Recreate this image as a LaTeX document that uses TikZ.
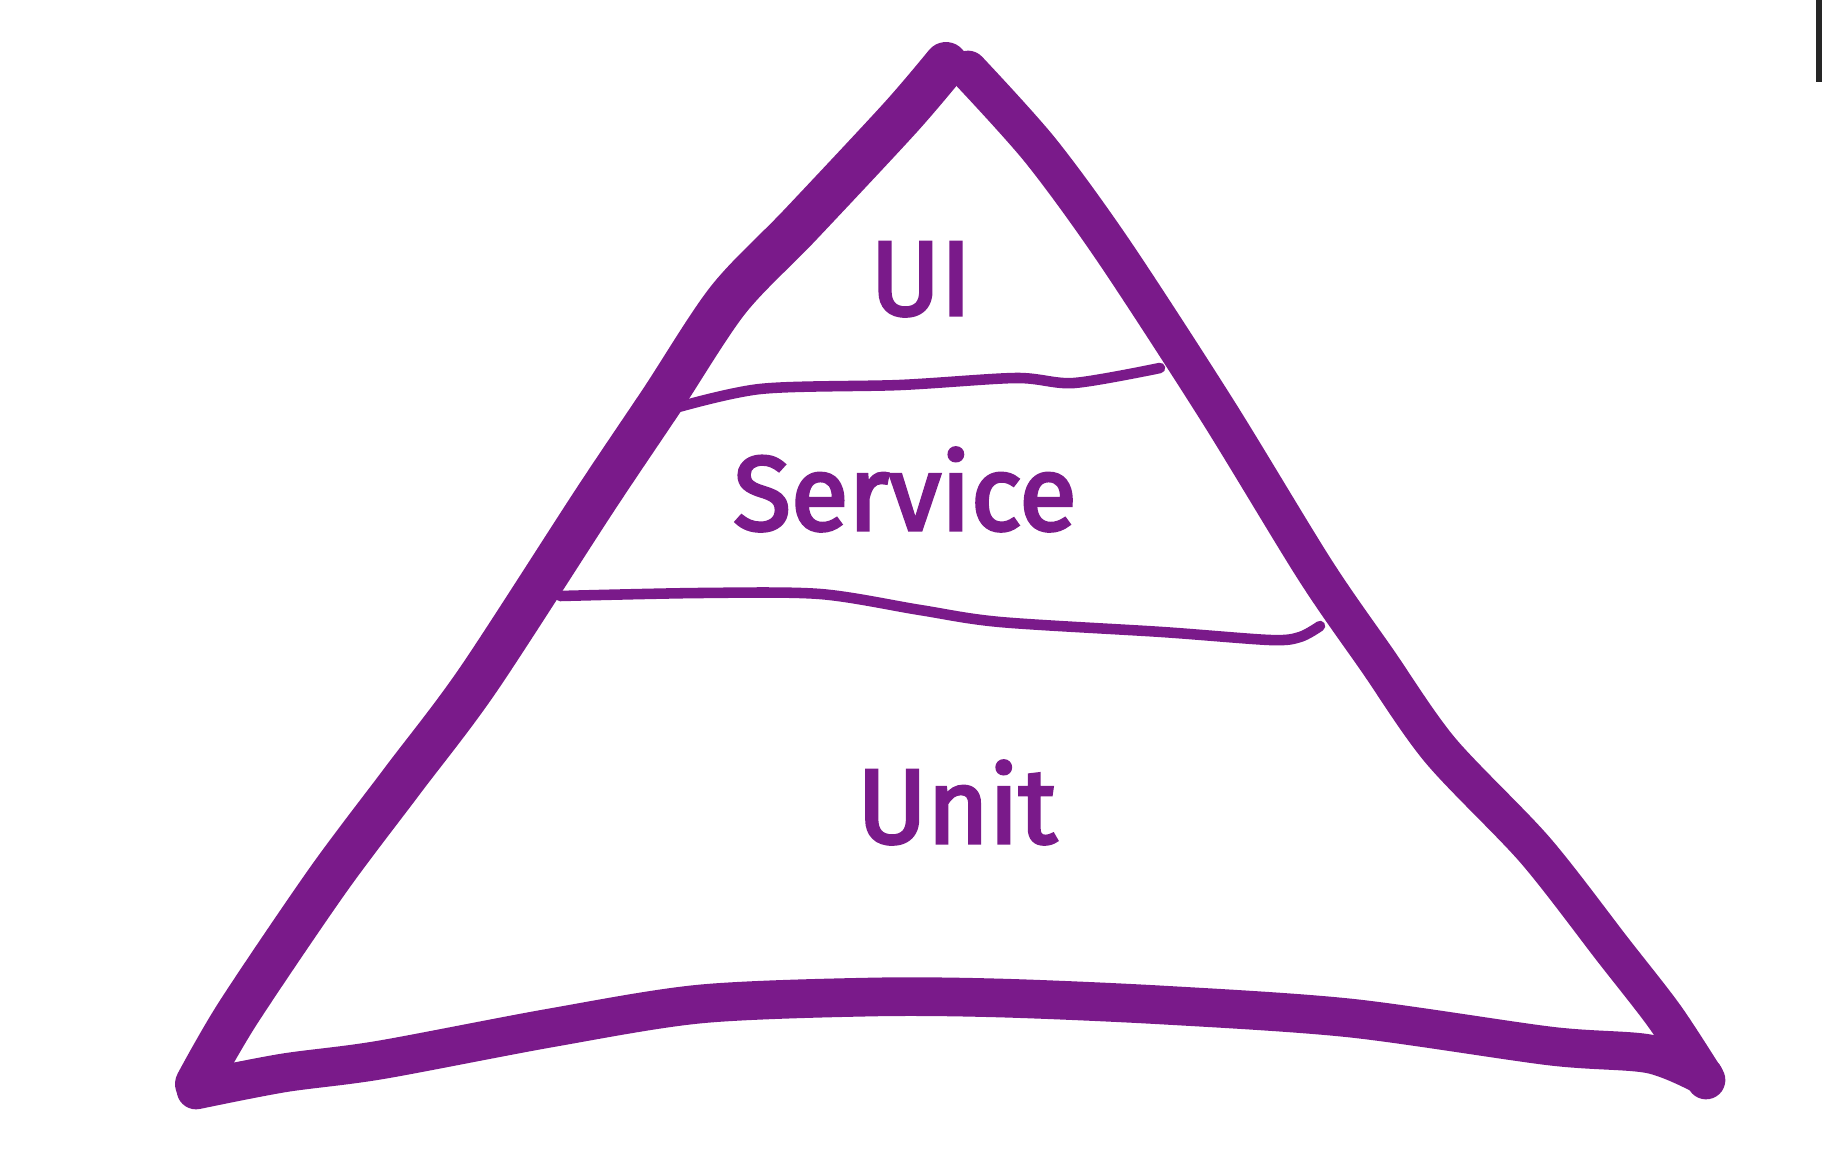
\documentclass[tikz,border=0pt]{standalone}
\usepackage{fontspec}
\setmainfont{Fira Sans}
\newfontfamily\handfont{Fira Sans}[FakeBold=3]
\definecolor{pyr}{RGB}{122,26,138}

\begin{document}
\begin{tikzpicture}[x=0.01cm,y=-0.01cm,
    side/.style={pyr,line width=11pt,line cap=round,line join=round},
    layer/.style={pyr,line width=3pt,line cap=round,line join=round},
    lbl/.style={pyr,anchor=base,font=\handfont\fontsize{30}{36}\selectfont}]
    \useasboundingbox (0,0) rectangle (1822,1152);
    % left side
    \draw[side,line width=12.5pt] plot[smooth,tension=0.5] coordinates {(946,64) (900,118) (800,225) (728,300) (662,400) (595,500) (478,680) (403,780) (328,880) (238,1013) (197,1084)};
    % right side
    \draw[side] plot[smooth,tension=0.5] coordinates {(968,70) (1040,150) (1113,250) (1217,410) (1315,570) (1377,660) (1440,750) (1535,850) (1613,950) (1665,1017) (1706,1080)};
    % bottom
    \draw[side] plot[smooth,tension=0.5] coordinates {(196,1090) (283,1073) (380,1060) (550,1028) (700,1004) (872,997) (1000,998) (1162,1005) (1350,1018) (1550,1046) (1650,1054) (1704,1076)};
    % layer borders
    \draw[layer] plot[smooth,tension=0.5] coordinates {(668,410) (760,389) (900,385) (1016,378) (1074,383) (1160,368)};
    \draw[layer] plot[smooth,tension=0.5] coordinates {(560,596) (700,593) (820,594) (920,610) (1000,622) (1162,632) (1270,640) (1300,637) (1320,626)};
    % labels
    \node[lbl] (ui) at (921,315) {UI};
    \node[lbl] (service) at (905,530) {Service};
    \node[lbl] (unit) at (957,843) {Unit};
    \fill[black!85] (1816,0) rectangle (1822,82);
\end{tikzpicture}
\end{document}
